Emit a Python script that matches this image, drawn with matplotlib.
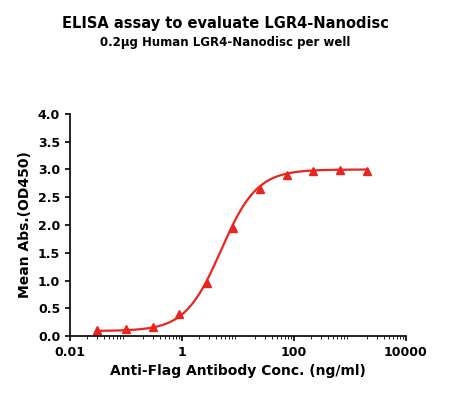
import numpy as np
import matplotlib
matplotlib.use("Agg")
import matplotlib.pyplot as plt

conc = [0.03, 0.1, 0.3, 0.9, 2.8, 8.3, 25, 75, 220, 660, 2000]
od = [0.10, 0.12, 0.17, 0.40, 0.95, 1.95, 2.65, 2.90, 2.97, 2.99, 2.97]
fit_bottom, fit_top, fit_ec50, fit_hill = 0.09, 3.0, 5.0, 1.35

fig = plt.figure(figsize=(4.51, 4.0), dpi=100)
ax = fig.add_axes([0.155, 0.16, 0.745, 0.555])
xs = np.logspace(np.log10(0.03), np.log10(2000), 300)
ys = fit_bottom + (fit_top - fit_bottom) / (1 + (fit_ec50 / xs) ** fit_hill)
ax.plot(xs, ys, color='#e8251f', lw=1.6)
ax.plot(conc, od, '^', color='#e8251f', ms=6)
ax.set_xscale('log')
ax.set_xlim(0.01, 10000)
ax.set_ylim(0, 4.0)
ax.set_xticks([0.01, 1, 100, 10000])
ax.set_xticklabels(['0.01', '1', '100', '10000'])
ax.set_yticks(np.arange(0, 4.01, 0.5))
ax.set_yticklabels([f'{v:.1f}' for v in np.arange(0, 4.01, 0.5)])
for s in ['top', 'right']:
    ax.spines[s].set_visible(False)
for s in ['left', 'bottom']:
    ax.spines[s].set_linewidth(1.2)
ax.tick_params(labelsize=9, width=1.2)
for t in ax.get_xticklabels() + ax.get_yticklabels():
    t.set_fontweight('bold')
ax.set_xlabel('Anti-Flag Antibody Conc. (ng/ml)', fontsize=10, fontweight='bold')
ax.set_ylabel('Mean Abs.(OD450)', fontsize=10, fontweight='bold')
fig.text(0.5, 0.93, 'ELISA assay to evaluate LGR4-Nanodisc', ha='center', fontsize=10.5, fontweight='bold')
fig.text(0.5, 0.885, '0.2μg Human LGR4-Nanodisc per well', ha='center', fontsize=8.5, fontweight='bold')
fig.savefig('out.png', dpi=100)
